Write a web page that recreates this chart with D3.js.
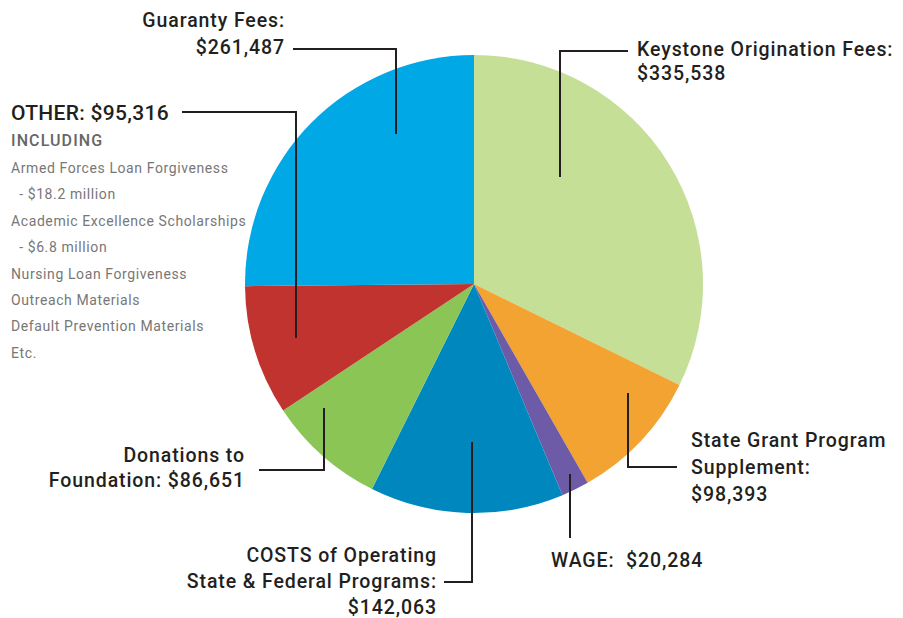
<!DOCTYPE html>
<html>
<head>
<meta charset="utf-8">
<script src="https://cdn.jsdelivr.net/npm/d3@7"></script>
<style>
  body { margin: 0; background: #fff; }
  svg text { font-family: Roboto, "Noto Sans", sans-serif; white-space: pre; }
</style>
</head>
<body>
<svg id="chart" width="903" height="618"></svg>
<script>
// slices, clockwise from 12 o'clock
var categories = ["Keystone Origination Fees", "State Grant Program Supplement", "WAGE",
  "COSTS of Operating State & Federal Programs", "Donations to Foundation", "OTHER", "Guaranty Fees"];
var amounts = [335538, 98393, 20284, 142063, 86651, 95316, 261487];
var colors = ["#c5df97", "#f3a332", "#6d5ba8", "#0088be", "#8bc555", "#c0332e", "#00a8e6"];

var otherItems = ["Armed Forces Loan Forgiveness", "\u00a0\u00a0- $18.2 million", "Academic Excellence Scholarships",
  "\u00a0\u00a0- $6.8 million", "Nursing Loan Forgiveness", "Outreach Materials", "Default Prevention Materials", "Etc."];

var fmt = d3.format("$,");

// label text + leader lines (layout only)
var labels = [
  {i: 0, lines: ["Keystone Origination Fees:", "$"], x: 637, y: 56, lh: 24, anchor: "start",
    path: [[628, 51], [560, 51], [560, 177]]},
  {i: 1, lines: ["State Grant Program", "Supplement:", "$"], x: 691, y: 447, lh: 27, anchor: "start",
    path: [[677, 467], [628, 467], [628, 393]]},
  {i: 2, lines: ["WAGE:\u00a0\u00a0$"], x: 551, y: 567, lh: 26, anchor: "start",
    path: [[570, 538], [570, 474]]},
  {i: 3, lines: ["COSTS of Operating", "State & Federal Programs:", "$"], x: 437, y: 562, lh: 26, anchor: "end",
    path: [[444, 582], [472, 582], [472, 442]]},
  {i: 4, lines: ["Donations to", "Foundation: $"], x: 245, y: 462, lh: 25, anchor: "end",
    path: [[259, 470], [324, 470], [324, 408]]},
  {i: 5, lines: ["OTHER: $"], x: 11, y: 120, lh: 26, anchor: "start", big: true,
    path: [[182, 112], [296, 112], [296, 338]]},
  {i: 6, lines: ["Guaranty Fees:", "$"], x: 285, y: 27, lh: 27, anchor: "end",
    path: [[293, 49], [396, 49], [396, 134]]}
];

var svg = d3.select("#chart");
var cx = 474, cy = 284, radius = 229;

var pie = d3.pie().sort(null).value(function(d) { return d; });
var arc = d3.arc().innerRadius(0).outerRadius(radius);

var g = svg.append("g").attr("transform", "translate(" + cx + "," + cy + ")");
g.selectAll("path")
  .data(pie(amounts))
  .enter().append("path")
  .attr("d", arc)
  .attr("fill", function(d, i) { return colors[i]; });

var line = d3.line();
svg.selectAll("path.leader")
  .data(labels)
  .enter().append("path")
  .attr("class", "leader")
  .attr("d", function(d) { return line(d.path); })
  .attr("fill", "none")
  .attr("stroke", "#231f20")
  .attr("stroke-width", 2);

labels.forEach(function(l) {
  var t = svg.append("text")
    .attr("x", l.x).attr("y", l.y)
    .attr("text-anchor", l.anchor)
    .attr("fill", "#231f20")
    .style("font-size", l.big ? "21px" : "19.5px")
    .style("font-weight", 500)
    .style("letter-spacing", l.big ? "0.3px" : "0.9px");
  l.lines.forEach(function(s, k) {
    var txt = s;
    if (s.slice(-1) === "$") txt = s.slice(0, -1) + fmt(amounts[l.i]);
    t.append("tspan").attr("x", l.x).attr("dy", k === 0 ? 0 : l.lh).text(txt);
  });
});

svg.append("text")
  .attr("x", 11).attr("y", 146)
  .attr("fill", "#666")
  .style("font-size", "16px")
  .style("font-weight", 500)
  .style("letter-spacing", "1.1px")
  .text("INCLUDING");

svg.selectAll("text.item")
  .data(otherItems)
  .enter().append("text")
  .attr("class", "item")
  .attr("x", 11)
  .attr("y", function(d, i) { return 173 + i * 26.4; })
  .attr("fill", "#777")
  .style("font-size", "14px")
  .style("letter-spacing", "0.6px")
  .text(function(d) { return d; });
</script>
</body>
</html>
